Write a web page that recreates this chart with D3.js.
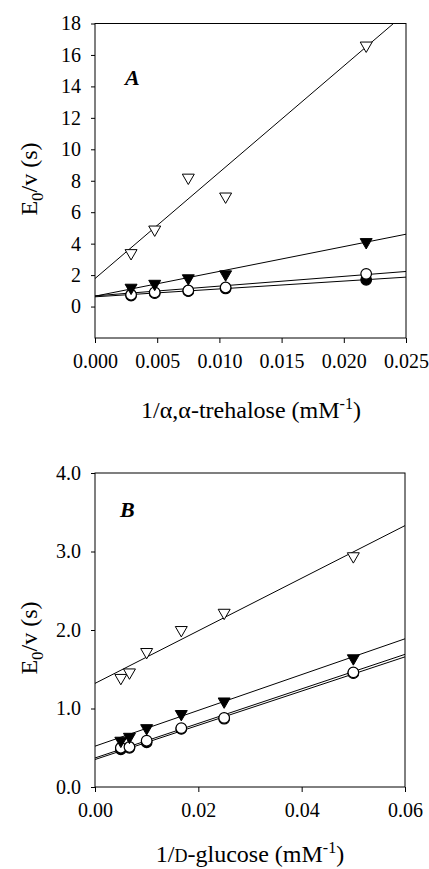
<!DOCTYPE html>
<html>
<head>
<meta charset="utf-8">
<script src="https://cdn.jsdelivr.net/npm/d3@7"></script>
<style>
  body { margin: 0; background: #fff; }
  svg text { font-family: 'Liberation Serif', 'DejaVu Serif', 'Times New Roman', Times, serif !important; fill: #000; }
</style>
</head>
<body>
<div id="chart"></div>
<script>
// ---- data ----
// Panel A : 1/alpha,alpha-trehalose
var xA = [0.0029, 0.0048, 0.0075, 0.0105, 0.0218];
var aOpenTri = [3.4, 4.9, 8.2, 7.0, 16.6];
var aFilledTri = [1.2, 1.45, 1.8, 2.05, 4.1];
var aOpenCirc = [0.75, 0.9, 1.02, 1.21, 2.08];
var aFilledCirc = [0.7, 0.85, 0.98, 1.15, 1.7];
// fitted lines [intercept, slope]
var aFits = [[1.78, 676], [0.66, 157.6], [0.68, 62], [0.62, 50]];
var aXTicks = [0, 0.005, 0.010, 0.015, 0.020, 0.025];
var aYTicks = [0, 2, 4, 6, 8, 10, 12, 14, 16, 18];

// Panel B : 1/D-glucose
var xB = [0.005, 0.00667, 0.010, 0.0167, 0.025, 0.050];
var bOpenTri = [1.39, 1.46, 1.72, 2.0, 2.22, 2.94];
var bFilledTri = [0.59, 0.64, 0.75, 0.93, 1.09, 1.64];
var bOpenCirc = [0.50, 0.51, 0.59, 0.75, 0.88, 1.46];
var bFilledCirc = [0.48, 0.50, 0.57, 0.74, 0.87, 1.45];
var bFits = [[1.32, 33.5], [0.52, 22.8], [0.37, 22.0], [0.35, 21.8]];
var bXTicks = [0, 0.02, 0.04, 0.06];
var bYTicks = [0, 1, 2, 3, 4];

var width = 429, height = 869;
var serif = "'Liberation Serif', 'DejaVu Serif', 'Times New Roman', serif";

var svg = d3.select("#chart").append("svg")
    .attr("width", width)
    .attr("height", height)
    .attr("font-family", serif);

function panel(opt) {
  var g = svg.append("g");
  var x = d3.scaleLinear().domain(opt.xDomain).range([95, opt.right]);
  var y = d3.scaleLinear().domain(opt.yDomain).range([opt.bottom, opt.top]);

  // clip for fit lines
  g.append("clipPath").attr("id", "clip" + opt.name)
    .append("rect")
    .attr("x", x.range()[0]).attr("y", opt.top)
    .attr("width", x.range()[1] - x.range()[0])
    .attr("height", opt.bottom - opt.top);

  // frame
  g.append("rect")
    .attr("x", x.range()[0]).attr("y", opt.top)
    .attr("width", x.range()[1] - x.range()[0])
    .attr("height", opt.bottom - opt.top)
    .attr("fill", "none").attr("stroke", "#000").attr("stroke-width", 1);

  // axes
  var xAxis = g.append("g")
    .attr("transform", "translate(0," + opt.bottom + ")")
    .call(d3.axisBottom(x).tickValues(opt.xTicks).tickFormat(d3.format(opt.xFmt))
      .tickSizeInner(5).tickSizeOuter(0).tickPadding(11));
  var yAxis = g.append("g")
    .attr("transform", "translate(" + x.range()[0] + ",0)")
    .call(d3.axisLeft(y).tickValues(opt.yTicks).tickFormat(d3.format(opt.yFmt))
      .tickSizeInner(4).tickSizeOuter(0).tickPadding(10));
  [xAxis, yAxis].forEach(function(a) {
    a.attr("font-family", serif).attr("font-size", 20);
    a.select(".domain").remove();
  });

  // fit lines
  var lines = g.append("g").attr("clip-path", "url(#clip" + opt.name + ")");
  opt.fits.forEach(function(f) {
    var x0 = opt.xDomain[0], x1 = opt.xDomain[1];
    lines.append("line")
      .attr("x1", x(x0)).attr("y1", y(f[0] + f[1] * x0))
      .attr("x2", x(x1)).attr("y2", y(f[0] + f[1] * x1))
      .attr("stroke", "#000").attr("stroke-width", 1);
  });

  var tri = d3.symbol().type(d3.symbolTriangle).size(62);

  function circles(vals, fill) {
    g.append("g").selectAll("circle").data(vals).join("circle")
      .attr("cx", function(d, i) { return x(opt.xs[i]); })
      .attr("cy", function(d) { return y(d); })
      .attr("r", 5.3)
      .attr("fill", fill).attr("stroke", "#000").attr("stroke-width", 1.2);
  }
  function triangles(vals, fill) {
    g.append("g").selectAll("path").data(vals).join("path")
      .attr("d", tri)
      .attr("transform", function(d, i) {
        return "translate(" + x(opt.xs[i]) + "," + y(d) + ") rotate(180)";
      })
      .attr("fill", fill).attr("stroke", "#000").attr("stroke-width", 1);
  }
  circles(opt.filledCirc, "#000");
  circles(opt.openCirc, "#fff");
  triangles(opt.filledTri, "#000");
  triangles(opt.openTri, "#fff");

  // panel letter
  g.append("text")
    .attr("x", opt.letterX).attr("y", opt.letterY)
    .attr("font-size", 22).attr("font-weight", "bold").attr("font-style", "italic")
    .text(opt.name);

  // y title
  var yt = g.append("text")
    .attr("transform", "translate(37," + opt.yTitleY + ") rotate(-90)")
    .attr("text-anchor", "middle")
    .attr("font-size", 24);
  yt.append("tspan").text("E");
  yt.append("tspan").attr("dy", 6).attr("font-size", 17).text("0");
  yt.append("tspan").attr("dy", -6).text("/v (s)");

  return { g: g, x: x, y: y };
}

var pA = panel({
  name: "A", xs: xA,
  xDomain: [0, 0.025], yDomain: [-2, 18],
  right: 406, top: 23.5, bottom: 338,
  xTicks: aXTicks, yTicks: aYTicks, xFmt: ".3f", yFmt: "d",
  openTri: aOpenTri, filledTri: aFilledTri, openCirc: aOpenCirc, filledCirc: aFilledCirc,
  fits: aFits, letterX: 125, letterY: 85, yTitleY: 179
});

var pB = panel({
  name: "B", xs: xB,
  xDomain: [0, 0.06], yDomain: [0, 4],
  right: 405, top: 473, bottom: 787,
  xTicks: bXTicks, yTicks: bYTicks, xFmt: ".2f", yFmt: ".1f",
  openTri: bOpenTri, filledTri: bFilledTri, openCirc: bOpenCirc, filledCirc: bFilledCirc,
  fits: bFits, letterX: 120, letterY: 517, yTitleY: 638
});

// x titles
var xtA = svg.append("text")
  .attr("x", 251).attr("y", 418)
  .attr("text-anchor", "middle")
  .attr("font-size", 24);
xtA.append("tspan").text("1/\u03b1,\u03b1-trehalose (mM");
xtA.append("tspan").attr("dy", -9).attr("font-size", 16).text("-1");
xtA.append("tspan").attr("dy", 9).text(")");

var xtB = svg.append("text")
  .attr("x", 250).attr("y", 862)
  .attr("text-anchor", "middle")
  .attr("font-size", 24);
xtB.append("tspan").text("1/");
xtB.append("tspan").attr("font-size", 18).text("D");
xtB.append("tspan").text("-glucose (mM");
xtB.append("tspan").attr("dy", -9).attr("font-size", 16).text("-1");
xtB.append("tspan").attr("dy", 9).text(")");
</script>
</body>
</html>
